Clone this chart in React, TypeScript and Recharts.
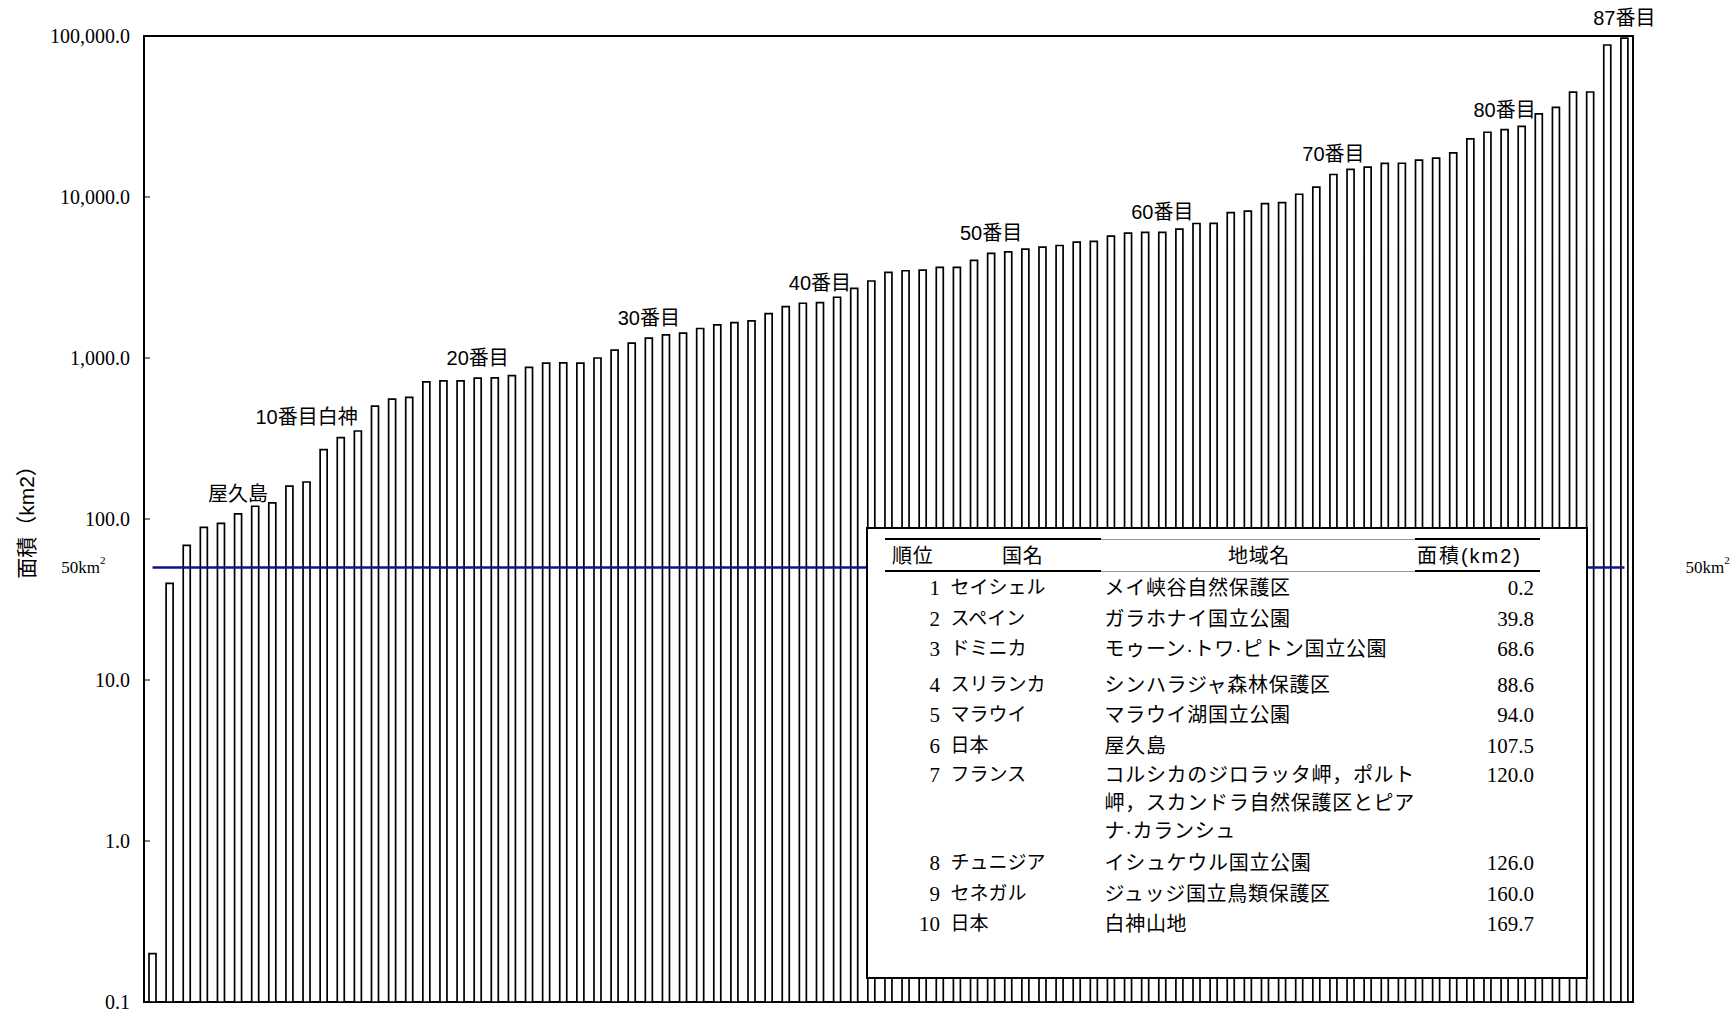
import {
  Bar,
  BarChart,
  Label,
  LabelList,
  Legend,
  ReferenceArea,
  ReferenceLine,
  XAxis,
  YAxis,
} from "recharts";

// 面積(km2), rank 1..87
const areas = [
  0.2, 39.8, 68.6, 88.6, 94.0, 107.5, 120.0, 126.0, 160.0, 169.7,
  270, 320, 352, 502, 556, 570, 710, 720, 720, 750,
  752, 778, 875, 930, 932, 930, 1000, 1120, 1238, 1330,
  1393, 1428, 1525, 1607, 1660, 1700, 1888, 2085, 2188, 2208,
  2384, 2710, 3008, 3403, 3483, 3515, 3653, 3660, 4037, 4460,
  4565, 4744, 4878, 4998, 5250, 5300, 5710, 5970, 6025, 6030,
  6310, 6845, 6860, 8000, 8160, 9100, 9230, 10400, 11530, 13800,
  14840, 15350, 16160, 16200, 16950, 17430, 18800, 22960, 25240, 26240,
  27480, 32800, 36060, 44870, 44900, 87950, 97000,
];

const countries = [
  "セイシェル", "スペイン", "ドミニカ", "スリランカ", "マラウイ",
  "日本", "フランス", "チュニジア", "セネガル", "日本",
];

const regions = [
  "メイ峡谷自然保護区",
  "ガラホナイ国立公園",
  "モゥーン·トワ·ピトン国立公園",
  "シンハラジャ森林保護区",
  "マラウイ湖国立公園",
  "屋久島",
  "コルシカのジロラッタ岬，ポルト\n岬，スカンドラ自然保護区とピア\nナ·カランシュ",
  "イシュケウル国立公園",
  "ジュッジ国立鳥類保護区",
  "白神山地",
];

const noteRanks = [6, 10, 20, 30, 40, 50, 60, 70, 80, 87];
const noteTexts = [
  "屋久島", "10番目白神", "20番目", "30番目", "40番目",
  "50番目", "60番目", "70番目", "80番目", "87番目",
];

const yTicks = [0.1, 1, 10, 100, 1000, 10000, 100000];
const threshold = 50;

const data = areas.map((area, i) => {
  const k = noteRanks.indexOf(i + 1);
  return { rank: String(i + 1), area, note: k >= 0 ? noteTexts[k] : "" };
});

const SERIF = "'Liberation Serif', 'Times New Roman', serif";
const SANS = "'Liberation Sans', 'Noto Sans CJK JP', sans-serif";
const TICK_MARGIN = 14;
const NOTE_LIFT: Record<string, number> = { "10": 65 };

const fmt = (v: number) =>
  v.toLocaleString("en-US", { minimumFractionDigits: 1, maximumFractionDigits: 1 });

function YTick(props: any) {
  const { x, y, payload } = props;
  const axisX = x + TICK_MARGIN;
  return (
    <g>
      <line x1={axisX} x2={axisX + 6} y1={y} y2={y} stroke="#000" strokeWidth={1} />
      <text x={x} y={y} textAnchor="end" dominantBaseline="central" fontFamily={SERIF} fontSize={20} fill="#000">
        {fmt(payload.value)}
      </text>
    </g>
  );
}

function YTitle(props: any) {
  const vb = props.viewBox || {};
  const cx = 26;
  const cy = (vb.y ?? 0) + (vb.height ?? 0) / 2 - 2;
  return (
    <text
      x={cx}
      y={cy}
      transform={`rotate(-90, ${cx}, ${cy})`}
      textAnchor="middle"
      dominantBaseline="central"
      fontFamily={SANS}
      fontSize={21}
      fill="#000"
    >
      面積（km2）
    </text>
  );
}

function ThresholdLabel(props: any) {
  const vb = props.viewBox || {};
  const y = vb.y ?? 0;
  const left = vb.x ?? 0;
  const right = left + (vb.width ?? 0);
  const txt = (x: number, anchor: "start" | "end") => (
    <text x={x} y={y} textAnchor={anchor} dominantBaseline="central" fontFamily={SERIF} fontSize={17} fill="#000">
      {threshold}km
      <tspan dy={-7} fontSize={11}>2</tspan>
    </text>
  );
  return (
    <g>
      {txt(left - 47, "end")}
      {txt(right + 61, "start")}
    </g>
  );
}

function NoteLabel(props: any) {
  const { value } = props;
  if (!value) return null;
  const vb = props.viewBox || props;
  const rank = data[props.index]?.rank;
  const lift = NOTE_LIFT[rank] ?? 20;
  return (
    <text
      x={vb.x + vb.width / 2}
      y={vb.y - lift}
      textAnchor="middle"
      dominantBaseline="central"
      fontFamily={SANS}
      fontSize={20}
      fill="#000"
    >
      {value}
    </text>
  );
}

function RankTable() {
  const line = (left: number, top: number, width: number, h: number, color: string) => (
    <div style={{ position: "absolute", left, top, width, height: h, background: color }} />
  );
  return (
    <div
      style={{
        position: "relative",
        width: 722,
        height: 452,
        background: "#fff",
        boxShadow: "inset 0 0 0 2px #000",
        fontFamily: SANS,
        fontSize: 20,
        letterSpacing: 0.7,
        color: "#000",
      }}
    >
      {line(19, 11, 216, 2, "#000")}
      {line(235, 11.5, 314, 1, "#999")}
      {line(549, 11, 125, 2, "#000")}
      {line(19, 43, 216, 2, "#000")}
      {line(235, 43.5, 314, 1, "#999")}
      {line(549, 43, 125, 2, "#000")}
      <div style={{ position: "absolute", top: 13.5, left: 0, width: 722, height: 30, lineHeight: "30px" }}>
        <span style={{ position: "absolute", left: 26 }}>順位</span>
        <span style={{ position: "absolute", left: 136 }}>国名</span>
        <span style={{ position: "absolute", left: 343, width: 100, textAlign: "center" }}>地域名</span>
        <span style={{ position: "absolute", right: 66, letterSpacing: 2 }}>面積(km2)</span>
      </div>
      <div style={{ position: "absolute", top: 46, left: 0, width: 722 }}>
        {countries.map((c, i) => {
          const lines = regions[i].split("\n");
          const multi = lines.length > 1;
          const lh = multi ? 28 : 30.5;
          return (
            <div
              key={i}
              style={{
                position: "relative",
                height: lines.length * lh,
                marginTop: i === 3 ? 5 : 0,
                marginBottom: multi ? 3 : 0,
                lineHeight: `${lh}px`,
              }}
            >
              <span style={{ position: "absolute", top: 0, left: 0, width: 74, textAlign: "right", fontFamily: SERIF, fontSize: 21, letterSpacing: 0 }}>
                {i + 1}
              </span>
              <span style={{ position: "absolute", top: 0, left: 84.5, fontSize: 19, letterSpacing: 0 }}>{c}</span>
              <span style={{ position: "absolute", top: 0, left: 238.5, whiteSpace: "pre" }}>{regions[i]}</span>
              <span style={{ position: "absolute", top: 0, right: 54, fontFamily: SERIF, fontSize: 21, letterSpacing: 0 }}>
                {areas[i].toFixed(1)}
              </span>
            </div>
          );
        })}
      </div>
    </div>
  );
}

export default function App() {
  return (
    <div style={{ width: 1733, height: 1013, background: "#fff" }}>
      <style>{"body{margin:0;background:#fff}"}</style>
      <BarChart
        width={1733}
        height={1013}
        data={data}
        margin={{ top: 36, right: 100, bottom: 11, left: 0 }}
      >
        <XAxis dataKey="rank" hide />
        <YAxis
          type="number"
          scale="log"
          domain={[0.1, 100000]}
          ticks={yTicks}
          interval={0}
          allowDataOverflow
          width={144}
          axisLine={false}
          tickLine={false}
          tickSize={0}
          tickMargin={TICK_MARGIN}
          tick={<YTick />}
        >
          <Label content={<YTitle />} />
        </YAxis>
        <Bar dataKey="area" barSize={7} fill="#fff" stroke="#000" strokeWidth={1.7} isAnimationActive={false}>
          <LabelList dataKey="note" content={<NoteLabel />} />
        </Bar>
        <ReferenceLine
          segment={[
            { x: data[0].rank, y: threshold },
            { x: data[data.length - 1].rank, y: threshold },
          ]}
          stroke="#10108c"
          strokeWidth={2.5}
          label={<ThresholdLabel />}
        />
        <ReferenceArea y1={0.1} y2={100000} fill="none" stroke="#000" strokeWidth={2} ifOverflow="visible" />
        <Legend
          layout="horizontal"
          verticalAlign="middle"
          align="center"
          content={() => <RankTable />}
          wrapperStyle={{ left: 866, top: 527, width: 722, height: 452 }}
        />
      </BarChart>
    </div>
  );
}
